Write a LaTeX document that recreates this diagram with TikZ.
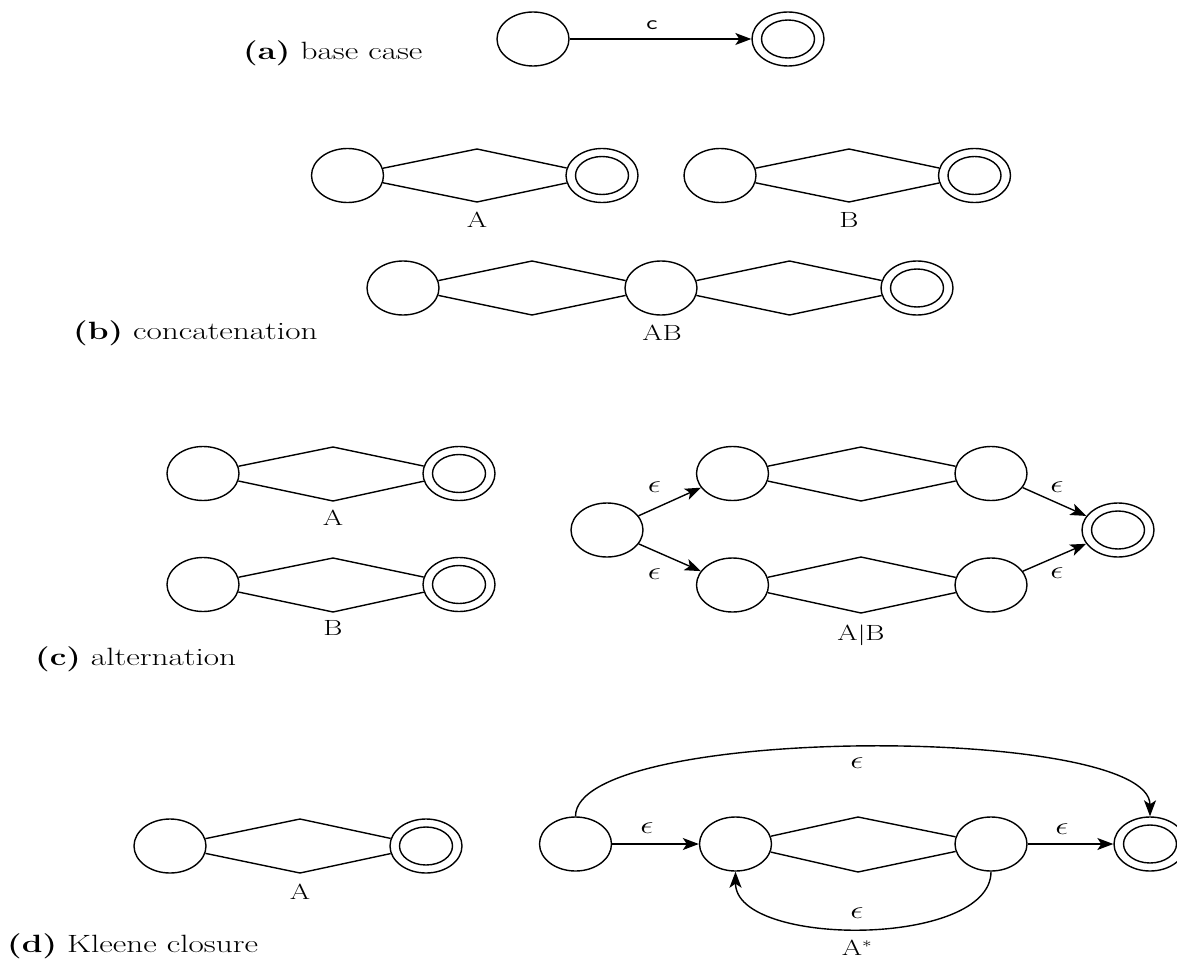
\documentclass[tikz,border=0pt]{standalone}
\usetikzlibrary{shapes.geometric,arrows.meta}
\newcommand\hwide[1]{\scalebox{1.33}[1]{#1}}
\begin{document}
\begin{tikzpicture}[x=1pt,y=-1pt,
  st/.style={ellipse, draw, line width=1.4pt, minimum width=72pt, minimum height=54pt, inner sep=0pt},
  acc/.style={st, path picture={\draw[line width=1.4pt] (path picture bounding box.center) ellipse [x radius=26.5pt, y radius=19pt];}},
  ln/.style={line width=1.4pt, line join=miter},
  arr/.style={line width=1.4pt, -{Stealth[length=16pt,width=12pt,inset=4pt]}},
  captxt/.style={font=\fontsize{25}{30}\selectfont, anchor=base west, inner sep=0pt},
  lab/.style={font=\fontsize{22}{26}\selectfont, inner sep=0pt},
  eps/.style={font=\fontsize{24}{28}\selectfont, inner sep=0pt},
  sanslab/.style={font=\fontsize{20}{24}\selectfont\sffamily, inner sep=0pt}
]
\useasboundingbox[fill=white] (0,0) rectangle (1177,960);

% (a) base case
\node[captxt] (capa) at (243,60) {\hwide{\textbf{(a)} base case}};
\node[st] (a1) at (533,39) {};
\node[acc] (a2) at (788,39) {};
\draw[arr] (a1) -- (a2);
\node[sanslab] (lc) at (652,25) {\hwide{c}};

% (b) concatenation
\node[st] (b1) at (347.5,175.5) {};
\coordinate (b1t) at (477,149); \coordinate (b1b) at (477,202);
\node[acc] (b2) at (602,175.5) {};
\draw[ln] (b1) -- (b1t) -- (b2) (b1) -- (b1b) -- (b2);
\node[lab] (lbA) at (477,220) {\hwide{A}};

\node[st] (b3) at (720,175.5) {};
\coordinate (b3t) at (849,149); \coordinate (b3b) at (849,202);
\node[acc] (b4) at (974.5,175.5) {};
\draw[ln] (b3) -- (b3t) -- (b4) (b3) -- (b3b) -- (b4);
\node[lab] (lbB) at (849,220) {\hwide{B}};

\node[st] (b5) at (403,288) {};
\coordinate (b5t) at (532,261); \coordinate (b5b) at (532,315);
\node[st] (b6) at (661,288) {};
\coordinate (b6t) at (789.5,261); \coordinate (b6b) at (789.5,315);
\node[acc] (b7) at (917,288) {};
\draw[ln] (b5) -- (b5t) -- (b6) (b5) -- (b5b) -- (b6);
\draw[ln] (b6) -- (b6t) -- (b7) (b6) -- (b6b) -- (b7);
\node[lab] (lbAB) at (662,333) {\hwide{AB}};
\node[captxt] (capb) at (73,339) {\hwide{\textbf{(b)} concatenation}};

% (c) alternation
\node[st] (c1) at (203,473.5) {};
\coordinate (c1t) at (333,447); \coordinate (c1b) at (333,501);
\node[acc] (c2) at (459,473.5) {};
\draw[ln] (c1) -- (c1t) -- (c2) (c1) -- (c1b) -- (c2);
\node[lab] (lcA) at (333,518) {\hwide{A}};

\node[st] (c3) at (203,584.5) {};
\coordinate (c3t) at (333,558); \coordinate (c3b) at (333,612);
\node[acc] (c4) at (459,584.5) {};
\draw[ln] (c3) -- (c3t) -- (c4) (c3) -- (c3b) -- (c4);
\node[lab] (lcB) at (333,628) {\hwide{B}};
\node[captxt] (capc) at (35,665) {\hwide{\textbf{(c)} alternation}};

\node[st] (s) at (607,530) {};
\node[st] (u1) at (732.5,473.5) {};
\coordinate (ut) at (861,447); \coordinate (ub) at (861,501);
\node[st] (u2) at (991,473.5) {};
\node[st] (l1) at (732.5,585) {};
\coordinate (lt) at (861,557); \coordinate (lb) at (861,613);
\node[st] (l2) at (991,585) {};
\node[acc] (f) at (1118,530) {};
\draw[ln] (u1) -- (ut) -- (u2) (u1) -- (ub) -- (u2);
\draw[ln] (l1) -- (lt) -- (l2) (l1) -- (lb) -- (l2);
\draw[arr] (s) -- (u1);
\draw[arr] (s) -- (l1);
\draw[arr] (u2) -- (f);
\draw[arr] (l2) -- (f);
\node[eps] (e1c) at (654.5,487) {\hwide{$\epsilon$}};
\node[eps] (e2c) at (654.5,574) {\hwide{$\epsilon$}};
\node[eps] (e3c) at (1057,487) {\hwide{$\epsilon$}};
\node[eps] (e4c) at (1057,573) {\hwide{$\epsilon$}};
\node[lab, anchor=base] (lAB) at (861,640.5) {\hwide{A$\big|$B}};

% (d) Kleene closure
\node[st] (d1) at (170,846) {};
\coordinate (d1t) at (300,819); \coordinate (d1b) at (300,873);
\node[acc] (d2) at (426,846) {};
\draw[ln] (d1) -- (d1t) -- (d2) (d1) -- (d1b) -- (d2);
\node[lab] (ldA) at (300,892) {\hwide{A}};
\node[captxt] (capd) at (7,952) {\hwide{\textbf{(d)} Kleene closure}};

\node[st] (e0) at (575.5,844) {};
\node[st] (k1) at (735.5,844) {};
\coordinate (kt) at (858,817); \coordinate (kb) at (858,872);
\node[st] (k2) at (991,844) {};
\node[acc] (kf) at (1150,844) {};
\draw[ln] (k1) -- (kt) -- (k2) (k1) -- (kb) -- (k2);
\draw[arr] (e0) -- (k1);
\draw[arr] (k2) -- (kf);
\draw[arr] (e0.north) .. controls +(0,-92) and +(0,-92) .. (kf.north);
\draw[arr] (k2.south) .. controls +(0,76) and +(0,76) .. (k1.south);
\node[eps] (e1d) at (647,828) {\hwide{$\epsilon$}};
\node[eps] (e2d) at (1062,829) {\hwide{$\epsilon$}};
\node[eps] (e3d) at (857,763) {\hwide{$\epsilon$}};
\node[eps] (e4d) at (857,913) {\hwide{$\epsilon$}};
\node[lab, anchor=base] (lAs) at (857,955.5) {\hwide{A$^{\ast}$}};
\end{tikzpicture}
\end{document}
